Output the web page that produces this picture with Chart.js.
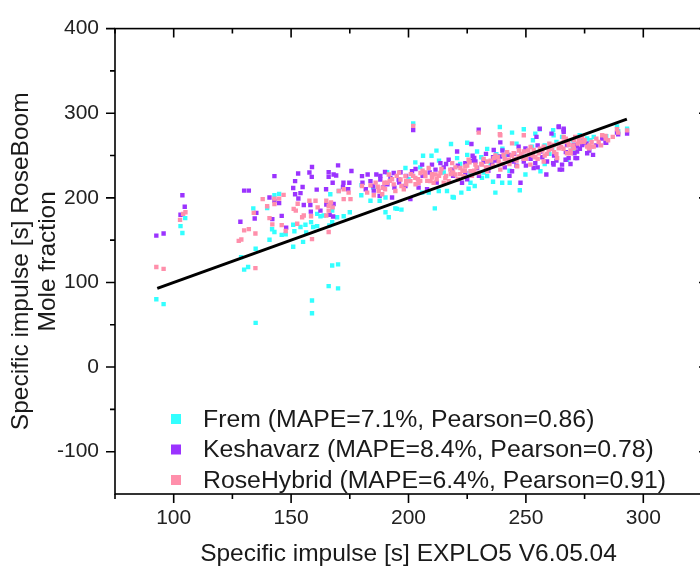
<!DOCTYPE html>
<html lang="en">
<head>
<meta charset="utf-8">
<style>
  html, body { margin: 0; padding: 0; background: #fff; overflow: hidden; }
  #wrap { width: 700px; height: 568px; overflow: hidden; }
</style>
</head>
<body>
<div id="wrap"><canvas id="myChart" width="720" height="568"></canvas></div>
<script src="https://cdn.jsdelivr.net/npm/chart.js"></script>
<script>
// [x, y] pairs
const fremData = [
  [104.9,176],[102.9,166.6],[103.7,158.5],[92.6,80.2],[95.7,74.4],[134.9,52.3],[144.9,204.7],[142.9,203],
  [139.8,188],[133.9,187.6],[141.9,162.8],[142.9,159.7],[146,156.2],[140.8,150.4],[147.7,157],[134.9,139.9],
  [128.7,129.9],[130,115.1],[131.7,118.3],[158.9,78.7],[158.9,63.6],[166,95.7],[170,93],[167.5,120],[170,121.3],
  [150.9,168.2],[154,165.5],[150.9,142.2],[155.1,148],[156.1,168.2],[158.5,171.3],[159.4,165.5],[161.1,181],
  [162.5,178.3],[163.9,179.1],[167.5,184.9],[166.7,204.3],[170.3,208.1],[169.6,177.1],[172.4,178.3],[175,182.9],
  [167.5,171.3],[166.3,167.4],[161.1,166.6],[151.4,160.5],[179.9,203],[183.8,196.5],[187.7,196.5],[190.2,200.4],
  [156.4,159],[218.1,263.6],[225,265.1],[211.9,255.8],[206.2,249.7],[209.8,249.7],[202.9,241.9],[198.7,235.2],
  [190.9,230.2],[220.7,246.9],[225,250.8],[229.2,254.7],[212.9,208.1],[216.4,208.1],[219.3,200.4],[222.5,206.2],
  [226.4,217.8],[228.2,214],[205.8,206.2],[208.6,206.2],[194.4,187.6],[197,186],[191.6,177.1],[211.2,187.6],
  [226.4,229.4],[238.9,283.7],[249.1,281],[244.1,277.1],[254,275.9],[255.9,281],[261.6,279.9],[265.4,272.1],
  [233.5,257.8],[237.4,251.6],[242,250.8],[252.6,260.5],[233.5,225.6],[236,219],[239.9,217.8],[243.1,217.8],
  [247.4,209],[237,206.2],[249.8,227.5],[256.2,231.4],[267.5,245],[261.2,258.5],[231.3,223.6],[288.8,284.5],
  [293.1,281.7],[278.9,272.1],[276.1,270.2],[289.3,278.7],[284.2,272.8],[277.5,268.2],[272.9,274],[273.2,270.1],
  [261.8,274],[202,288],[190.2,183],[218.8,201],[225.6,210.8],[195.1,186.9],[200,222],[215,230],[235,240],
  [250,248],[260,252],[270,258],[180,215],[185,212],[205,236],[213,244],[222,240],[231,248],[240,258],
  [246,264],[253,268],[258,262],[263,266],[270,268],[243,232],[232,230],[258,240]
];
const keshavarzData = [
  [142.9,225.6],[103.7,203],[104.7,189.5],[102.9,180],[92.6,155.4],[95.7,157.8],[130,208.5],[132,208.5],
  [140.8,200.4],[142.9,196.5],[144.9,193.8],[135.2,182.2],[134.5,175.6],[142,174.8],[128.4,171.7],[146,178.7],
  [147.9,164.8],[158.9,236.4],[170,238.4],[175.7,231.7],[153,228.7],[157.8,229.9],[158.8,224.8],[166,230.2],
  [168.1,227.5],[166,224.8],[169.2,226.4],[151.7,219.8],[150.9,211.6],[154.9,212.8],[160.9,209.7],[164.9,210.1],
  [167.7,217.8],[172.3,217.8],[174.8,217.8],[172.1,212.8],[174.3,210.1],[180.2,225.6],[182.6,227.5],[186.3,227.5],
  [190,230.6],[180.4,217.8],[183.8,219.8],[188,221.7],[184.9,214],[189.2,212.4],[151.7,204.3],[154,205.5],
  [153.1,199.2],[155.4,191.5],[158.2,191.5],[168.1,192.7],[165,192.2],[158.4,183.7],[162.5,184.9],[166.4,179.9],
  [167.9,177.9],[181.8,210.1],[185.2,208.5],[187.7,202.3],[226.8,263.6],[220.7,254.7],[227.3,249.7],[228.5,243],
  [224.2,241],[217.1,245],[213.6,241],[210,239.2],[205.8,239.2],[201.5,231.4],[196.6,230.2],[193.7,229.4],
  [192.3,223.6],[195.8,221.7],[193,200.4],[200.8,198.5],[204.3,212],[211.5,233.4],[218.6,233.4],[224.2,229.4],
  [229.2,235.2],[222.8,217.8],[198.7,214],[207.9,210.1],[264,283.7],[266.1,279.9],[255.9,281.7],[254.5,272.1],
  [260.9,275.9],[239.1,265.5],[236.3,256.6],[246.9,260.5],[249.8,258.5],[242.7,250.8],[239.1,248.8],[244.8,243],
  [249.1,243],[254,241],[259,243],[261.6,241],[265.4,239.2],[268.2,246.9],[270.4,262.4],[270.7,252.7],
  [264.4,233.4],[258.7,227.5],[253.3,235.2],[247.7,217.8],[235.6,239.2],[232,243],[238.4,225.6],[244.1,231.4],
  [256.2,254.7],[288.8,277.1],[293.1,275.9],[282.5,270.2],[283.9,265.1],[275.8,264.3],[276.1,252.7],[278.6,250.8],
  [274,262.4],[266.1,281.7],[266.1,277.9],[264,284.5],[271.1,246.9],[266.9,245],[267.5,262.4],[265.4,233.4],
  [261.8,239.2],[289.3,275],[284.2,265.1],[271.8,260.5],[271.8,254.7],[271.8,246.9],[274.6,266.3],[202,280],
  [229.9,280.5],[196,218],[206,226],[215,236],[236,248],[255,262],[262,250],[246,238],[228,247],
  [188,226],[191,216],[194,212],[199,226],[203,234],[209,230],[212,218],[216,240],[219,226],[221,238],
  [225,222],[227,244],[230,226],[233,252],[234,232],[237,244],[240,256],[241,236],[243,226],[245,252],
  [248,250],[250,238],[252,246],[255,236],[257,248],[260,258],[263,244],[267,254],[269,240],[273,258],
  [277,256],[280,262]
];
const roseHybridData = [
  [104,181],[105,183],[102.7,174],[92.6,118.2],[95.7,116],[137.9,198.5],[142.9,199],[144.9,199],[142.9,192.7],
  [139.8,190],[146.8,203.5],[134.1,182.2],[140.8,176],[142,168.6],[146,167.8],[147.7,160.8],[130,161.6],
  [132,163],[134.8,157.8],[127.7,149.2],[128.8,150.8],[134.8,117],[151.1,186.9],[152.8,193],[155.4,179.1],
  [157.8,196.5],[160.4,196.5],[161.3,188.7],[165,196.5],[166,190.7],[166,184.9],[167,194.5],[172.4,210.1],
  [174.5,206.2],[175.3,198.5],[172.4,198.5],[152,184.9],[154.7,177.1],[158.5,178.3],[165,179.1],[152.6,169.4],
  [158.9,151.2],[166,159.7],[180.2,214],[183.8,214.7],[186.9,213.1],[189.7,217.8],[182.4,206.2],[187.3,208.1],
  [190,210.1],[185.2,203],[188.8,204.3],[170.3,208.1],[167.7,188.7],[190.9,217.8],[193.7,215.9],[196.6,221.7],
  [198.7,225.6],[200.8,219.8],[202.9,223.6],[205.1,229.4],[207.2,225.6],[209.3,219.8],[211.5,227.5],[213.6,229.4],
  [215.7,223.6],[217.8,233.4],[220,227.5],[222.1,235.2],[224.2,237.2],[226.4,231.4],[228.5,239.2],[229.9,229.4],
  [194.4,208.1],[198,210.1],[204.3,217.8],[210.7,217.8],[217.1,219.8],[223.5,225.6],[191.6,227.5],[208.6,235.2],
  [218.6,241],[225.6,245],[231.3,239.2],[233.5,243],[236.3,246.9],[238.4,243],[240.5,250.8],[242.7,245],
  [244.8,252.7],[246.9,248.8],[249.1,254.7],[251.2,250.8],[253.3,256.6],[255.5,252.7],[257.6,260.5],[259.7,256.6],
  [261.8,262.4],[264,258.5],[266.1,266.3],[268.2,262.4],[270.4,268.3],[233.5,231.4],[239.1,233.4],[246.3,237.2],
  [251.9,239.2],[257.6,243],[263.3,246.9],[269,252.7],[249.1,274],[239.1,274],[244.1,264.3],[288.8,281],
  [293.1,279.7],[282.5,274],[283.9,273],[278.2,260.5],[276.1,260.5],[272.5,268.3],[270.4,258.5],[274.6,266.3],
  [267.5,252.7],[266.1,272.1],[289.3,277],[276.8,258.5],[278.9,260.5],[202,285],[229.9,277],[238.9,275.2],
  [192,220],[195,226],[197,214],[199,220],[201,228],[203,216],[204,222],[206,232],[208,220],[210,228],
  [212,222],[214,234],[216,226],[219,230],[221,222],[223,232],[225,238],[227,226],[229,236],[232,246],
  [234,236],[237,250],[240,240],[242,254],[245,246],[247,256],[250,246],[252,260],[254,248],[256,258],
  [258,250],[260,264],[262,254],[265,260],[267,270],[269,256],[272,264],[274,272],[277,262],[280,270],
  [282,262],[285,268],[186,218],[189,212],[193,222],[196,230],[199,216],[202,226],[205,220],[207,230],
  [210,224],[213,226],[215,218],[218,228],[220,236],[222,228],[224,232],[226,242],[228,232],[231,240],
  [233,236],[235,244],[236,238],[238,248],[241,246],[243,240],[244,250],[246,244],[248,252],[249,246],
  [251,256],[253,250],[255,246],[257,256],[259,252],[261,258],[263,252],[264,264],[266,258],[268,266],
  [270,262],[271,272],[273,266],[275,268],[278,266],[281,266],[284,270],[287,272]
];
const parityLine = [[93,93],[293,293]];

const seriesLabels = [
  'Frem (MAPE=7.1%, Pearson=0.86)',
  'Keshavarz (MAPE=8.4%, Pearson=0.78)',
  'RoseHybrid (MAPE=6.4%, Pearson=0.91)'
];
const seriesColors = ['#33ffff', '#9b33ff', '#ff8fab'];

const xMajorTicks = [100, 150, 200, 250, 300];
const xMinorTicks = [75, 125, 175, 225, 275, 325];
const yMajorTicks = [-100, 0, 100, 200, 300, 400];
const yMinorTicks = [-50, 50, 150, 250, 350];

const FONT = "'Liberation Sans', Arial, sans-serif";
const toXY = arr => arr.map(p => ({x: p[0], y: p[1]}));

// axis box with Origin-style tick marks (out on left/bottom, in on top/right)
const frame = {
  id: 'frame',
  afterDraw(chart) {
    const {ctx, chartArea: a, scales: {x, y}} = chart;
    ctx.save();
    ctx.strokeStyle = '#000';
    ctx.lineWidth = 1.6;
    ctx.strokeRect(a.left, a.top, a.right - a.left, a.bottom - a.top);
    ctx.beginPath();
    const xt = (vals, len, topLen) => vals.forEach(v => {
      const p = x.getPixelForValue(v);
      ctx.moveTo(p, a.bottom); ctx.lineTo(p, a.bottom + len);
      ctx.moveTo(p, a.top); ctx.lineTo(p, a.top + topLen);
    });
    const yt = (vals, len, rLen) => vals.forEach(v => {
      const p = y.getPixelForValue(v);
      ctx.moveTo(a.left, p); ctx.lineTo(a.left - len, p);
      ctx.moveTo(a.right, p); ctx.lineTo(a.right - rLen, p);
    });
    xt(xMajorTicks, 9, 9);
    xt(xMinorTicks, 5, 5);
    yt(yMajorTicks, 9, 3);
    yt(yMinorTicks, 5, 2);
    ctx.stroke();
    ctx.restore();
  }
};

// legend sitting inside the plot, lower left
const legendBox = {
  id: 'legendBox',
  afterDraw(chart) {
    const {ctx} = chart;
    ctx.save();
    ctx.font = '24.8px ' + FONT;
    ctx.textBaseline = 'middle';
    seriesLabels.forEach((lab, i) => {
      const cy = 419 + i * 30.5;
      ctx.fillStyle = seriesColors[i];
      ctx.fillRect(171, cy - 5, 10, 10);
      ctx.fillStyle = '#1a1a1a';
      ctx.fillText(lab, 203, cy + 1);
    });
    ctx.restore();
  }
};

const pointSet = (i, data, order) => ({
  label: seriesLabels[i],
  data: toXY(data),
  backgroundColor: seriesColors[i],
  borderWidth: 0,
  pointStyle: 'rect',
  pointRadius: 3.1,
  order: order
});

new Chart(document.getElementById('myChart'), {
  type: 'scatter',
  data: {
    datasets: [
      pointSet(0, fremData, 3),
      pointSet(1, keshavarzData, 2),
      pointSet(2, roseHybridData, 1),
      {
        label: 'parity',
        data: toXY(parityLine),
        showLine: true,
        borderColor: '#000',
        borderWidth: 3,
        pointRadius: 0,
        order: 0
      }
    ]
  },
  options: {
    responsive: false,
    animation: false,
    devicePixelRatio: 1,
    layout: {padding: {top: 20, right: 18, left: 0, bottom: 0}},
    plugins: {legend: {display: false}, tooltip: {enabled: false}},
    scales: {
      x: {
        type: 'linear', min: 75, max: 325,
        afterBuildTicks: s => { s.ticks = xMajorTicks.map(v => ({value: v})); },
        afterFit: s => { s.height = 74; },
        grid: {display: false, drawTicks: false},
        border: {display: false},
        ticks: {padding: 12, color: '#222', autoSkip: false, maxRotation: 0, font: {family: FONT, size: 21}},
        title: {
          display: true, text: 'Specific impulse [s] EXPLO5 V6.05.04', color: '#1a1a1a',
          font: {family: FONT, size: 24.5, lineHeight: 1.1}, padding: {top: 0, bottom: 0}
        }
      },
      y: {
        type: 'linear', min: -150, max: 400,
        afterBuildTicks: s => { s.ticks = yMajorTicks.map(v => ({value: v})); },
        afterFit: s => { s.width = 115; },
        grid: {display: false, drawTicks: false},
        border: {display: false},
        ticks: {padding: 16, color: '#222', autoSkip: false, font: {family: FONT, size: 21}},
        title: {
          display: true, text: ['Specific impulse [s] RoseBoom', 'Mole fraction'], color: '#1a1a1a',
          font: {family: FONT, size: 24.5, lineHeight: 1.1}, padding: {top: 8, bottom: 0}
        }
      }
    }
  },
  plugins: [frame, legendBox]
});
</script>
</body>
</html>
